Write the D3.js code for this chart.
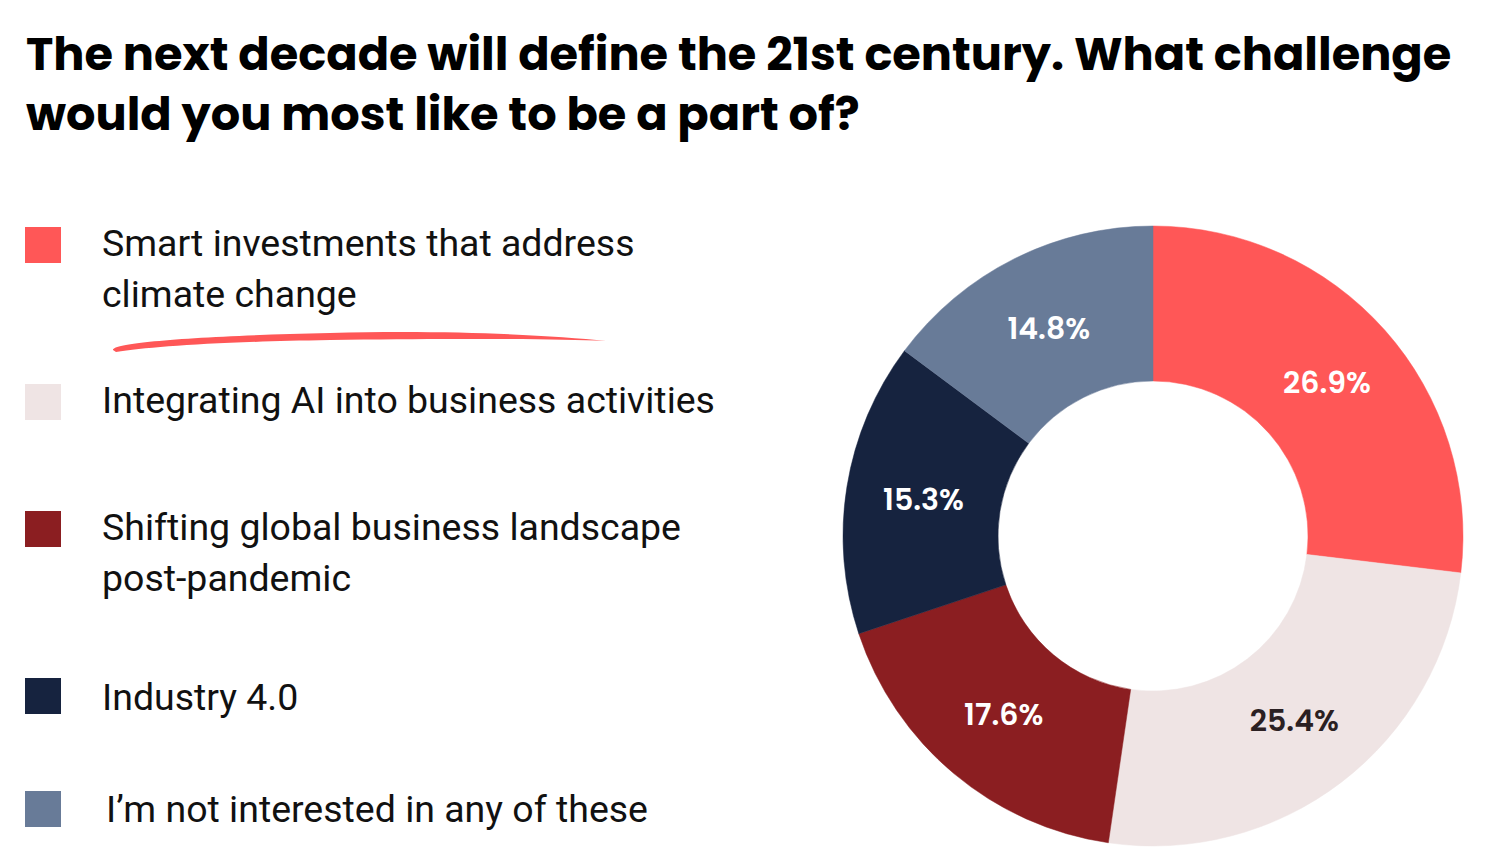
<!DOCTYPE html>
<html>
<head>
<meta charset="utf-8">
<script src="https://cdn.jsdelivr.net/npm/d3@7"></script>
<style>
  html, body { margin: 0; padding: 0; background: #ffffff; }
  svg { display: block; }
</style>
</head>
<body>
<svg id="chart" width="1488" height="848"></svg>
<script>
// ---- data ----
const titleLines = [
  "The next decade will define the 21st century. What challenge",
  "would you most like to be a part of?"
];
const categories = [
  "Smart investments that address climate change",
  "Integrating AI into business activities",
  "Shifting global business landscape post-pandemic",
  "Industry 4.0",
  "I\u2019m not interested in any of these"
];
const legendLines = [
  ["Smart investments that address", "climate change"],
  ["Integrating AI into business activities"],
  ["Shifting global business landscape", "post-pandemic"],
  ["Industry 4.0"],
  ["I\u2019m not interested in any of these"]
];
const values = [26.9, 25.4, 17.6, 15.3, 14.8];
const colors = ["#FF5757", "#EFE4E4", "#8B1E21", "#16233F", "#687B98"];
const labelColors = ["#ffffff", "#2B2022", "#ffffff", "#ffffff", "#ffffff"];

// ---- layout ----
const svg = d3.select("#chart");
const cx = 1153, cy = 536, outerR = 310, innerR = 155;

// title
const titleFont = "Poppins, 'Inter', 'Open Sans', sans-serif";
const title = svg.append("g");
const titleBaselines = [70, 130];
let titleSize = 44;
titleLines.forEach((t, i) => {
  title.append("text")
    .attr("x", 26).attr("y", titleBaselines[i])
    .attr("font-family", titleFont)
    .attr("font-weight", 700)
    .attr("font-size", titleSize)
    .attr("fill", "#000")
    .text(t);
});
// fit title size to reference width of first line
const firstW = title.select("text").node().getComputedTextLength();
titleSize = titleSize * 1426 / firstW;
title.selectAll("text").attr("font-size", titleSize);

// legend
const legendFont = "Roboto, 'Noto Sans', sans-serif";
const legendSquareY = [227, 384, 511, 678, 791];
const legendTextY = [256, 413, 540, 710, 822];
const legendTextX = [102, 102, 102, 102, 106];
const legend = svg.append("g");
categories.forEach((c, i) => {
  legend.append("rect")
    .attr("x", 25).attr("y", legendSquareY[i])
    .attr("width", 36).attr("height", 36)
    .attr("fill", colors[i]);
  const tx = legend.append("text")
    .attr("font-family", legendFont)
    .attr("font-size", 33)
    .attr("fill", "#111");
  legendLines[i].forEach((ln, j) => {
    tx.append("tspan")
      .attr("x", legendTextX[i])
      .attr("y", legendTextY[i] + j * 51)
      .text(ln);
  });
});
// fit legend size using the widest line
const refNode = legend.selectAll("text").nodes()[1];
const refW = refNode.getComputedTextLength();
legend.selectAll("text").attr("font-size", 33 * 613 / refW);

// brush underline under first legend entry
svg.append("path")
  .attr("d", "M113,350 C112,343 190,336 330,333 C450,330 550,335 606,341 C550,339 450,338 330,340 C210,342 150,347 116,352 Z")
  .attr("fill", "#FF5757");

// donut
const pie = d3.pie().sort(null).value(d => d)(values);
const arc = d3.arc().innerRadius(innerR).outerRadius(outerR);
const labelArc = d3.arc().innerRadius((innerR + outerR) / 2).outerRadius((innerR + outerR) / 2);
const g = svg.append("g").attr("transform", `translate(${cx},${cy})`);
g.selectAll("path.slice")
  .data(pie)
  .join("path")
  .attr("class", "slice")
  .attr("d", arc)
  .attr("fill", (d, i) => colors[i])
  .attr("stroke", (d, i) => colors[i])
  .attr("stroke-width", 0.5);

g.selectAll("text.lbl")
  .data(pie)
  .join("text")
  .attr("class", "lbl")
  .attr("transform", d => `translate(${labelArc.centroid(d)})`)
  .attr("text-anchor", "middle")
  .attr("dy", "0.36em")
  .attr("font-family", titleFont)
  .attr("font-weight", 600)
  .attr("font-size", 30)
  .attr("fill", (d, i) => labelColors[i])
  .text(d => d.data.toFixed(1) + "%");
</script>
</body>
</html>
